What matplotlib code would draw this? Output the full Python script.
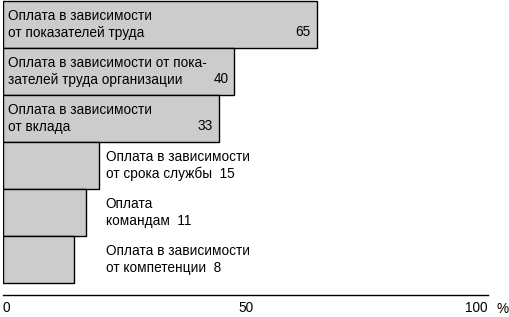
import matplotlib.pyplot as plt

# данные
labels = [
    "Оплата в зависимости\nот показателей труда",
    "Оплата в зависимости от пока-\nзателей труда организации",
    "Оплата в зависимости\nот вклада",
    "Оплата в зависимости\nот срока службы",
    "Оплата\nкомандам",
    "Оплата в зависимости\nот компетенции",
]
values = [65, 40, 33, 15, 11, 8]
# длина столбцов, как на рисунке (не строго по значениям)
bar_lengths = [64.7, 47.7, 44.5, 19.7, 17.1, 14.7]
inside = [True, True, True, False, False, False]

plt.rcParams['font.family'] = ['Liberation Sans', 'DejaVu Sans']
fs = 9.8

fig = plt.figure(figsize=(5.1, 3.17), dpi=100)
ax = fig.add_axes([3 / 510, 1 - 295 / 317, 485 / 510, 295 / 317])

pos = list(range(len(values)))
ax.barh(pos, bar_lengths, height=1.0, left=0, color='#cccccc',
        edgecolor='black', linewidth=1)

out_x = 21.2
for i, (lab, v, w, ins) in enumerate(zip(labels, values, bar_lengths, inside)):
    if ins:
        ax.text(1.0, i, lab, ha='left', va='center', fontsize=fs, linespacing=1.25)
        ax.text(w - 1.2, i + 0.165, str(v), ha='right', va='center', fontsize=fs)
    else:
        first, second = lab.split("\n")
        ax.text(out_x, i, first + "\n" + second + "  " + str(v), ha='left',
                va='center', fontsize=fs, linespacing=1.25)

ax.set_xlim(0, 100)
ax.set_ylim(5.75, -0.52)
for s in ['top', 'right', 'left']:
    ax.spines[s].set_visible(False)
ax.spines['bottom'].set_linewidth(1)
ax.set_yticks([])
ax.set_xticks([0, 50, 100])
ax.set_xticklabels(['0', '50', '100'])
ax.tick_params(axis='x', length=0, pad=4.5, labelsize=fs)
tl = ax.get_xticklabels()
tl[0].set_ha('left')
tl[2].set_ha('right')
fig.text(497 / 510, 1 - 309 / 317, '%', ha='left', va='center', fontsize=fs)

fig.savefig('out.png', dpi=100)
